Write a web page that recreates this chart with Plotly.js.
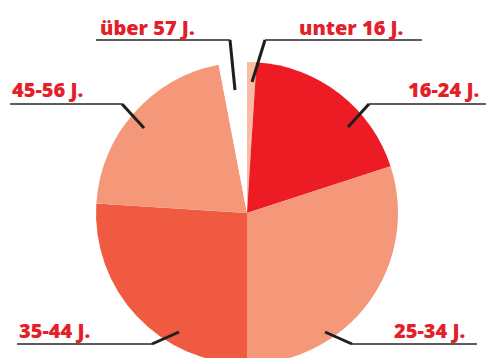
<!DOCTYPE html>
<html>
<head>
<meta charset="utf-8">
<script src="https://cdn.plot.ly/plotly-3.0.1.min.js"></script>
<style>
  html, body { margin: 0; padding: 0; overflow: hidden; background: #fff; }
  #chart { width: 486px; height: 400px; }
</style>
</head>
<body>
<div id="chart"></div>
<script>
// Altersgruppen und Anteile (in Prozent)
const categories = ['unter 16 J.', '16-24 J.', '25-34 J.', '35-44 J.', '45-56 J.', 'über 57 J.'];
const shares = [1, 19, 30, 26, 21, 3];
const sliceColors = ['#f9bba4', '#ed1c24', '#f5987a', '#f05a40', '#f5987a', '#ffffff'];

const W = 486, H = 400;
const px = x => x / W;
const py = y => 1 - y / H;

// Pie circle: centre (247, 213), radius 151 (in page pixels)
const cx = 247, cy = 213, r = 151;

// Label placement: anchor pixel, horizontal alignment, and leader line (elbow path)
const labelLayout = [
  { x: 405, y: 27, anchor: 'right', line: [[422, 40], [265, 40], [252, 82]] },
  { x: 481, y: 90, anchor: 'right', line: [[486, 104], [369, 104], [348, 127]] },
  { x: 467, y: 330, anchor: 'right', line: [[477, 344], [352, 344], [325, 332]] },
  { x: 17, y: 330, anchor: 'left', line: [[17, 344], [152, 344], [179, 332]] },
  { x: 10, y: 90, anchor: 'left', line: [[10, 104], [122, 104], [144, 128]] },
  { x: 98, y: 27, anchor: 'left', line: [[96, 40], [230, 40], [235, 90]] }
];

const annotations = categories.map((c, i) => ({
  text: c,
  xref: 'paper', yref: 'paper',
  x: px(labelLayout[i].x), y: py(labelLayout[i].y),
  xanchor: labelLayout[i].anchor, yanchor: 'middle',
  showarrow: false,
  font: { family: 'Open Sans, sans-serif', size: 20, weight: 800, color: '#e3202a' }
}));

const shapes = [];
labelLayout.forEach(l => {
  const [a, b, c] = l.line;
  shapes.push({
    type: 'line', xref: 'paper', yref: 'paper',
    x0: px(a[0]), y0: py(a[1]), x1: px(b[0]), y1: py(b[1]),
    line: { color: '#5c5c5c', width: 2 }
  });
  shapes.push({
    type: 'line', xref: 'paper', yref: 'paper',
    x0: px(b[0]), y0: py(b[1]), x1: px(c[0]), y1: py(c[1]),
    line: { color: '#1e1e1e', width: 3 }
  });
});

const trace = {
  type: 'pie',
  labels: categories,
  values: shares,
  sort: false,
  direction: 'clockwise',
  rotation: 0,
  textinfo: 'none',
  hoverinfo: 'label+percent',
  marker: { colors: sliceColors, line: { width: 0 } },
  domain: { x: [px(cx - r), px(cx + r)], y: [py(cy + r), py(cy - r)] }
};

Plotly.newPlot('chart', [trace], {
  width: W, height: H,
  margin: { l: 0, r: 0, t: 0, b: 0 },
  paper_bgcolor: '#ffffff',
  showlegend: false,
  annotations: annotations,
  shapes: shapes
}, { displayModeBar: false, staticPlot: true });
</script>
</body>
</html>
